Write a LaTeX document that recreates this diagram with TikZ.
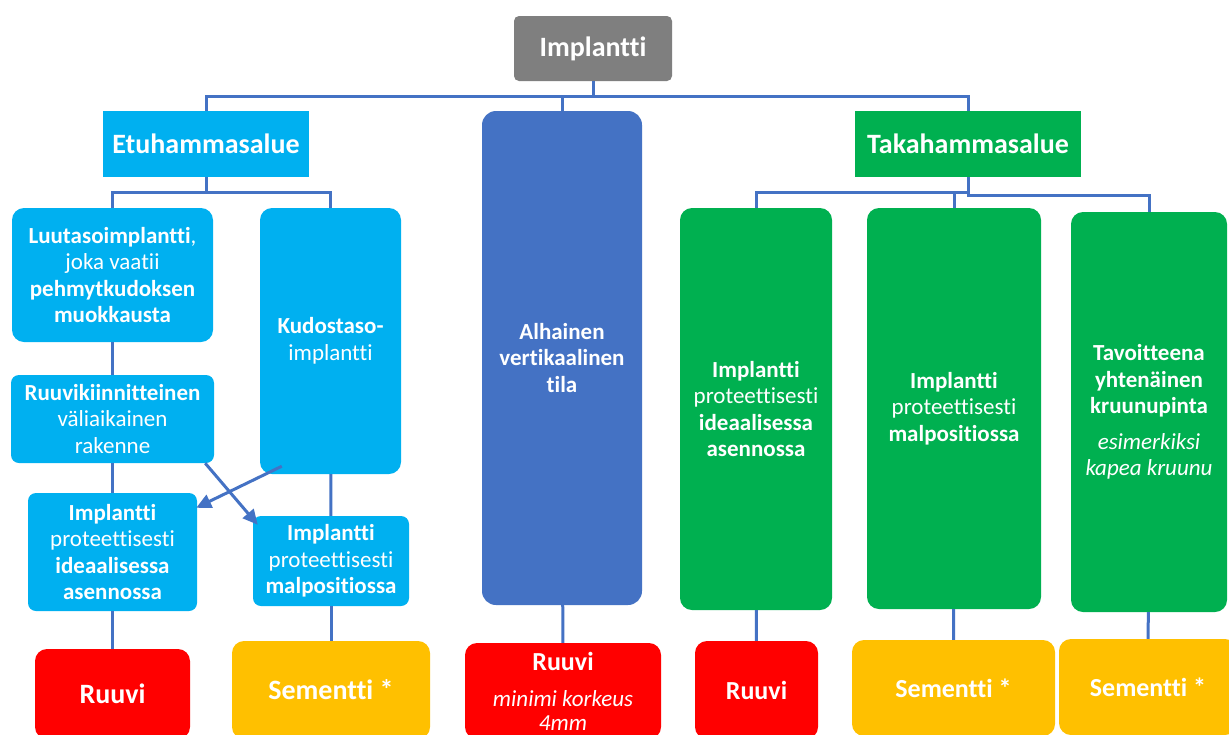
\documentclass[tikz,border=0pt]{standalone}
\usepackage{fontspec}
\setmainfont{Carlito}[Ligatures=NoCommon]
\usetikzlibrary{arrows.meta}
\definecolor{harmaa}{HTML}{7F7F7F}
\definecolor{syaani}{HTML}{00B0F0}
\definecolor{sininen}{HTML}{4472C4}
\definecolor{vihrea}{HTML}{00B050}
\definecolor{punainen}{HTML}{FF0000}
\definecolor{keltainen}{HTML}{FFC000}
\definecolor{viiva}{HTML}{4472C4}

\begin{document}
\begin{tikzpicture}[x=1pt,y=-1pt,
  box/.style={rectangle,rounded corners=12pt,inner sep=0pt,
    text=white,align=center,font=\fontsize{23}{26.5}\selectfont},
  head/.style={rectangle,inner sep=0pt,text=white,
    font=\fontsize{28}{32}\selectfont\bfseries},
  foot/.style={box,font=\fontsize{26}{30}\selectfont\bfseries},
  conn/.style={draw=viiva,line width=3pt},
  link/.style={conn,-{Triangle[length=15pt,width=14pt]}}]
\useasboundingbox (0,0) rectangle (1229,734);
\clip (0,0) rectangle (1229,734);
\fill[white] (0,0) rectangle (1229,734);

\node (i) at (593,48.5)
  [head,fill=harmaa,rounded corners=5pt,
   minimum width=158pt,minimum height=65pt]
   {Implantti};
\node (e) at (206,144)
  [head,fill=syaani,
   minimum width=206pt,minimum height=66pt]
   {Etuhammasalue};
\node (v) at (562,358)
  [box,fill=sininen,rounded corners=14pt,
   minimum width=160pt,minimum height=494pt]
   {\textbf{Alhainen}\\\textbf{vertikaalinen}\\\textbf{tila}};
\node (t) at (968,144)
  [head,fill=vihrea,
   minimum width=226pt,minimum height=66pt]
   {Takahammasalue};

\node (lu) at (112.5,275)
  [box,fill=syaani,
   minimum width=201pt,minimum height=134pt]
   {\textbf{Luutasoimplantti},\\joka vaatii\\\textbf{pehmytkudoksen}\\\textbf{muokkausta}};
\node (ku) at (330.5,341)
  [box,fill=syaani,
   minimum width=141pt,minimum height=266pt]
   {\textbf{Kudostaso-}\\implantti};
\node (rv) at (112.5,419)
  [box,fill=syaani,rounded corners=8pt,
   minimum width=203pt,minimum height=88pt]
   {\textbf{Ruuvikiinnitteinen}\\väliaikainen\\rakenne};
\node (ei) at (112.5,552)
  [box,fill=syaani,rounded corners=8pt,
   minimum width=169pt,minimum height=118pt]
   {\textbf{Implantti}\\proteettisesti\\\textbf{ideaalisessa}\\\textbf{asennossa}};
\node (em) at (331,561)
  [box,fill=syaani,rounded corners=8pt,
   minimum width=156pt,minimum height=90pt]
   {\textbf{Implantti}\\proteettisesti\\\textbf{malpositiossa}};

\node (ti) at (756,409)
  [box,fill=vihrea,
   minimum width=152pt,minimum height=402pt]
   {\textbf{Implantti}\\proteettisesti\\\textbf{ideaalisessa}\\\textbf{asennossa}};
\node (tm) at (954,408.5)
  [box,fill=vihrea,
   minimum width=174pt,minimum height=401pt]
   {\textbf{Implantti}\\proteettisesti\\\textbf{malpositiossa}};
\node (tk) at (1149,412)
  [box,fill=vihrea,
   minimum width=156pt,minimum height=400pt]
   {\textbf{Tavoitteena}\\\textbf{yhtenäinen}\\\textbf{kruunupinta}\\[9pt]
    \textit{esimerkiksi}\\\textit{kapea kruunu}};

\node (er) at (112.5,694)
  [foot,fill=punainen,font=\fontsize{28}{32}\selectfont\bfseries,
   minimum width=155pt,minimum height=90pt]
   {Ruuvi};
\node (es) at (331,690)
  [foot,fill=keltainen,font=\fontsize{28}{32}\selectfont\bfseries,
   minimum width=198pt,minimum height=98pt]
   {Sementti *};
\node (vr) at (563,691)
  [foot,fill=punainen,font=\fontsize{23}{24}\selectfont\itshape,
   minimum width=196pt,minimum height=96pt]
   {{\fontsize{26}{30}\selectfont\upshape\bfseries Ruuvi}\\[12pt]
    minimi korkeus\\4mm};
\node (tr) at (756.5,690)
  [foot,fill=punainen,
   minimum width=123pt,minimum height=98pt]
   {Ruuvi};
\node (ts) at (953.5,688)
  [foot,fill=keltainen,
   minimum width=203pt,minimum height=96pt]
   {Sementti *};
\node (tk2) at (1148,687)
  [foot,fill=keltainen,
   minimum width=178pt,minimum height=96pt]
   {Sementti *};

\draw[conn] (i.south) -- ++(0,15) -| (e.north);
\draw[conn] (i.south) -- ++(0,15) -| (v.north);
\draw[conn] (i.south) -- ++(0,15) -| (t.north);
\draw[conn] (e.south) -- ++(0,15) -| (lu.north);
\draw[conn] (e.south) -- ++(0,15) -| (ku.north);
\draw[conn] (t.south) -- ++(0,15) -| (ti.north);
\draw[conn] (t.south) -- ++(0,15) -| (tm.north);
\draw[conn] (t.south) -- ++(0,18) -| (tk.north);

\draw[conn] (lu) -- (rv);
\draw[conn] (rv) -- (ei);
\draw[conn] (ku) -- (em);
\draw[conn] (ei) -- (er);
\draw[conn] (em) -- (es);
\draw[conn] (v) -- (vr);
\draw[conn] (ti) -- (tr);
\draw[conn] (tm) -- (ts);
\draw[conn] (tk) -- (tk2);

\draw[link] ([xshift=-9pt]rv.south east) -- ([xshift=5pt,yshift=-9pt]em.north west);
\draw[link] ([xshift=22pt,yshift=8pt]ku.south west) -- ([xshift=-1pt,yshift=-15pt]ei.north east);
\end{tikzpicture}
\end{document}
